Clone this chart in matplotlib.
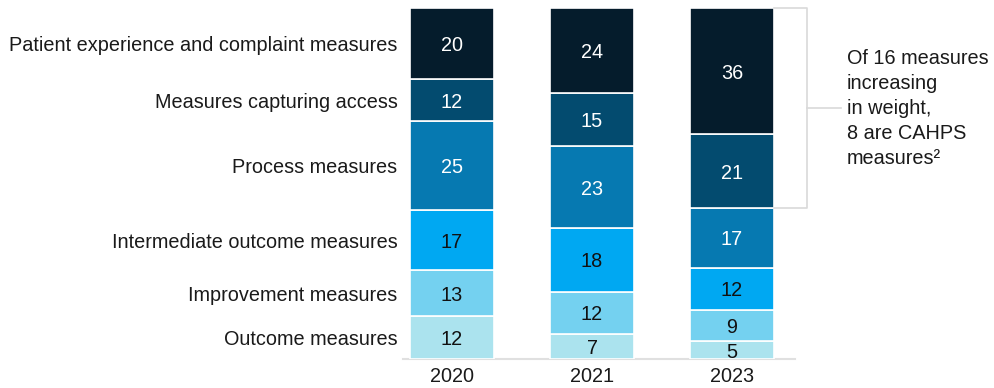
import numpy as np
import matplotlib
matplotlib.use("Agg")
import matplotlib.pyplot as plt

plt.rcParams['font.family'] = ['Liberation Sans', 'DejaVu Sans']

years = ["2020", "2021", "2023"]
categories = [
    "Outcome measures",
    "Improvement measures",
    "Intermediate outcome measures",
    "Process measures",
    "Measures capturing access",
    "Patient experience and complaint measures",
]
# share of weight, bottom to top, one list per category (2020, 2021, 2023)
outcome = [12, 7, 5]
improvement = [13, 12, 9]
intermediate = [17, 18, 12]
process = [25, 23, 17]
access = [12, 15, 21]
patient_exp = [20, 24, 36]

note = "Of 16 measures\nincreasing\nin weight,\n8 are CAHPS\nmeasures²"

colors = ["#abe3ee", "#74d1f0", "#00a8f2", "#0679b1", "#034b6f", "#051c2c"]
text_colors = ["#111111", "#111111", "#111111", "white", "white", "white"]

series = np.array([outcome, improvement, intermediate, process, access, patient_exp], dtype=float)
totals = series.sum(axis=0)
shares = series / totals * 100

fs = 14.3
fig = plt.figure(figsize=(9.94, 3.88), dpi=100)
ax = fig.add_axes([382 / 994, 29 / 388, 420 / 994, 351 / 388])
x = np.arange(len(years))

bottom = np.zeros(len(years))
for i, cat in enumerate(categories):
    ax.bar(x, shares[i], 0.6, bottom=bottom, color=colors[i],
           edgecolor="white", linewidth=1.2)
    for j in range(len(years)):
        ax.text(x[j], bottom[j] + shares[i][j] / 2, str(int(series[i][j])),
                ha="center", va="center_baseline", fontsize=fs, color=text_colors[i])
    # category label next to the 2020 segment
    ax.text(-0.39, bottom[0] + shares[i][0] / 2, cat, ha="right", va="center_baseline",
            fontsize=fs, color="#1a1a1a")
    bottom += shares[i]

# baseline
ax.plot([-0.35, 2.45], [0, 0], color="#e0e0e0", lw=1.5, clip_on=False, zorder=0)

# bracket on the 2023 bar
low = shares[:4, 2].sum()
mid = (100 + low) / 2
bx = 2.536
ax.plot([2.3, bx, bx, 2.3], [100, 100, low, low], color="#d9d9d9", lw=1.2, clip_on=False)
ax.plot([bx, 2.78], [mid, mid], color="#d9d9d9", lw=1.2, clip_on=False)
ax.text(2.82, mid, note, ha="left", va="center", fontsize=fs, color="#1a1a1a",
        linespacing=1.4)

ax.set_xlim(-0.5, 2.5)
ax.set_ylim(0, 100)
ax.set_xticks(x)
ax.set_xticklabels(years, fontsize=fs, color="#1a1a1a")
ax.tick_params(axis="x", length=0, pad=6)
ax.set_yticks([])
for s in ax.spines.values():
    s.set_visible(False)

fig.savefig("out.png", dpi=100)
